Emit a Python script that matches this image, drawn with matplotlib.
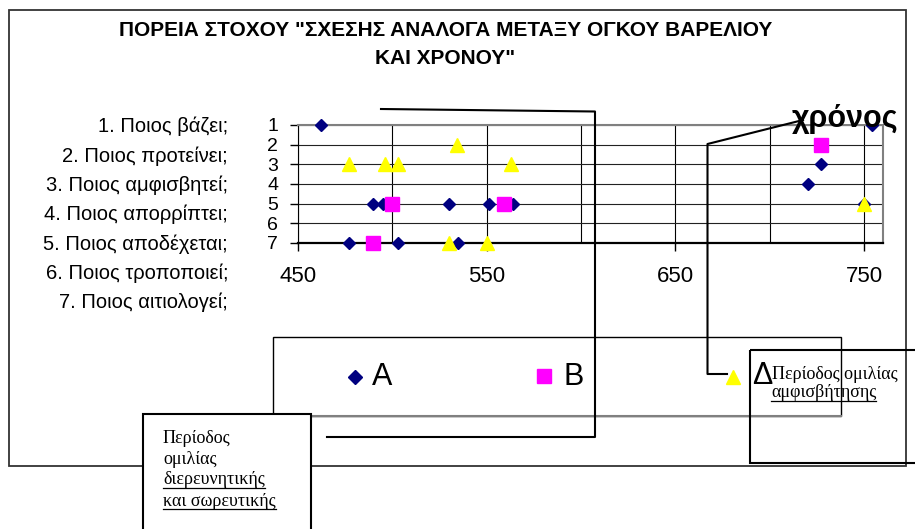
import matplotlib
matplotlib.use('Agg')
import matplotlib.pyplot as plt
from matplotlib.transforms import Affine2D
from matplotlib.lines import Line2D
from matplotlib.patches import Rectangle

# data
a_x = [462, 490, 495, 530, 551, 564, 477, 503, 535, 754, 727, 720, 750]
a_y = [1, 5, 5, 5, 5, 5, 7, 7, 7, 1, 3, 4, 5]
b_x = [500, 559, 490, 727]
b_y = [5, 5, 7, 2]
d_x = [477, 496, 503, 563, 534, 530, 550, 750]
d_y = [3, 3, 3, 3, 2, 7, 7, 5]

x_ticks = [450, 550, 650, 750]
x_grid = [500, 600, 700]
y_ticks = [1, 2, 3, 4, 5, 6, 7]
questions = ['1. Ποιος βάζει;', '2. Ποιος προτείνει;', '3. Ποιος αμφισβητεί;',
             '4. Ποιος απορρίπτει;', '5. Ποιος αποδέχεται;', '6. Ποιος τροποποιεί;',
             '7. Ποιος αιτιολογεί;']
title1 = 'ΠΟΡΕΙΑ ΣΤΟΧΟΥ "ΣΧΕΣΗΣ ΑΝΑΛΟΓΑ ΜΕΤΑΞΥ ΟΓΚΟΥ ΒΑΡΕΛΙΟΥ'
title2 = 'ΚΑΙ ΧΡΟΝΟΥ"'

NAVY, PINK, YEL = '#000080', '#FF00FF', '#FFFF00'
SANS, SERIF = 'Liberation Sans', 'Liberation Serif'

W, H = 915, 529
fig = plt.figure(figsize=(W/100, H/100), dpi=100)
fig.patch.set_facecolor('white')
# pixel coords, origin top-left
px = Affine2D().scale(1/W, -1/H).translate(0, 1) + fig.transFigure


def line(xs, ys, color='black', lw=1.5, z=4):
	fig.add_artist(Line2D(xs, ys, color=color, lw=lw, transform=px, zorder=z))


def box(x0, y0, x1, y1, fc='none', ec='black', lw=1.5, z=3):
	fig.add_artist(Rectangle((x0, y0), x1-x0, y1-y0, transform=px, fc=fc, ec=ec, lw=lw, zorder=z))


def text(x, y, s, **kw):
	kw.setdefault('family', SANS)
	kw.setdefault('zorder', 6)
	return fig.text(x, y, s, transform=px, **kw)


def underline(t, y):
	r = fig.canvas.get_renderer()
	bb = t.get_window_extent(r)
	line([bb.x0, bb.x1], [y, y], lw=0.9, z=6)


# plot area
ax = fig.add_axes([298/W, 1-243/H, 585/W, 118/H])
ax.set_facecolor('white')
ax.plot(a_x, a_y, ls='none', marker='D', ms=6.3, color=NAVY, mec=NAVY, clip_on=False, zorder=3)
ax.plot(b_x, b_y, ls='none', marker='s', ms=10, color=PINK, mec=PINK, clip_on=False, zorder=4)
ax.plot(d_x, d_y, ls='none', marker='^', ms=10, color=YEL, mec=YEL, clip_on=False, zorder=5)
ax.set_xlim(450, 760)
ax.set_ylim(7, 1)
ax.set_xticks(x_ticks)
ax.set_xticks(x_grid, minor=True)
ax.set_yticks(y_ticks)
ax.set_xticklabels([str(v) for v in x_ticks], family=SANS, fontsize=16)
ax.set_yticklabels([str(v) for v in y_ticks], family=SANS, fontsize=14)
ax.tick_params(axis='x', which='major', length=5.8, width=1, pad=11)
ax.tick_params(axis='x', which='minor', length=0)
ax.tick_params(axis='y', length=5.8, width=1, pad=8.5)
ax.set_axisbelow(True)
ax.grid(True, axis='x', which='both', color='black', lw=0.8)
ax.grid(True, axis='y', which='major', color='#222222', lw=0.8)
ax.spines['left'].set_color('black')
ax.spines['left'].set_linewidth(0.8)
ax.spines['bottom'].set_color('black')
ax.spines['bottom'].set_linewidth(1.6)
for s in ['top', 'right']:
	ax.spines[s].set_color('#808080')
	ax.spines[s].set_linewidth(1.5)

# outer frame and title
box(9, 10, 906, 466, ec='#333333', lw=1.3, z=1)
text(446, 30, title1, ha='center', va='center', fontsize=15, fontweight='bold')
text(445, 58, title2, ha='center', va='center', fontsize=15, fontweight='bold')

# question list on the left
for i, q in enumerate(questions):
	text(228, 132.5 + 29.3*i, q, ha='right', va='baseline', fontsize=14.5)

# "χρόνος" label over the top right corner
fig.add_artist(Rectangle((800, 97), 92, 27, transform=px, fc='white', ec='none', zorder=2))
text(845, 127, 'χρόνος', ha='center', va='baseline', fontsize=22, fontweight='bold')

# legend box
box(273, 337, 841, 416, fc='white', ec='black', lw=1, z=2)
line([273, 841], [416, 416], color='#808080', lw=1.5, z=2)
fig.add_artist(Line2D([354.5], [376.5], marker='D', ms=7, color=NAVY, ls='none', transform=px, zorder=6))
fig.add_artist(Line2D([544], [376], marker='s', ms=9.6, color=PINK, ls='none', transform=px, zorder=6))
fig.add_artist(Line2D([733], [377], marker='^', ms=9.5, color=YEL, ls='none', transform=px, zorder=6))
text(372, 385, 'A', va='baseline', fontsize=22)
text(563, 385, 'B', va='baseline', fontsize=22)
text(752, 384, 'Δ', va='baseline', fontsize=22)

# left callout
box(143, 414, 311, 545, fc='white', ec='black', lw=1.5, z=3)
text(163, 443, 'Περίοδος', va='baseline', family=SERIF, fontsize=13)
text(163, 464, 'ομιλίας', va='baseline', family=SERIF, fontsize=13)
t1 = text(163, 484.5, 'διερευνητικής', va='baseline', family=SERIF, fontsize=13)
t2 = text(163, 505.5, 'και σωρευτικής', va='baseline', family=SERIF, fontsize=13)
underline(t1, 487.5)
underline(t2, 508.5)
line([327, 595, 595, 381], [437, 437, 111.5, 109])

# right callout
box(750, 350, 935, 463, fc='none', ec='black', lw=1.5, z=3)
text(772, 379, 'Περίοδος ομιλίας', va='baseline', family=SERIF, fontsize=13)
t3 = text(771, 397, 'αμφισβήτησης', va='baseline', family=SERIF, fontsize=13)
underline(t3, 400.5)
line([727, 707.5, 707.5, 803], [374, 374, 144, 120])

fig.savefig('out.png', dpi=100)
